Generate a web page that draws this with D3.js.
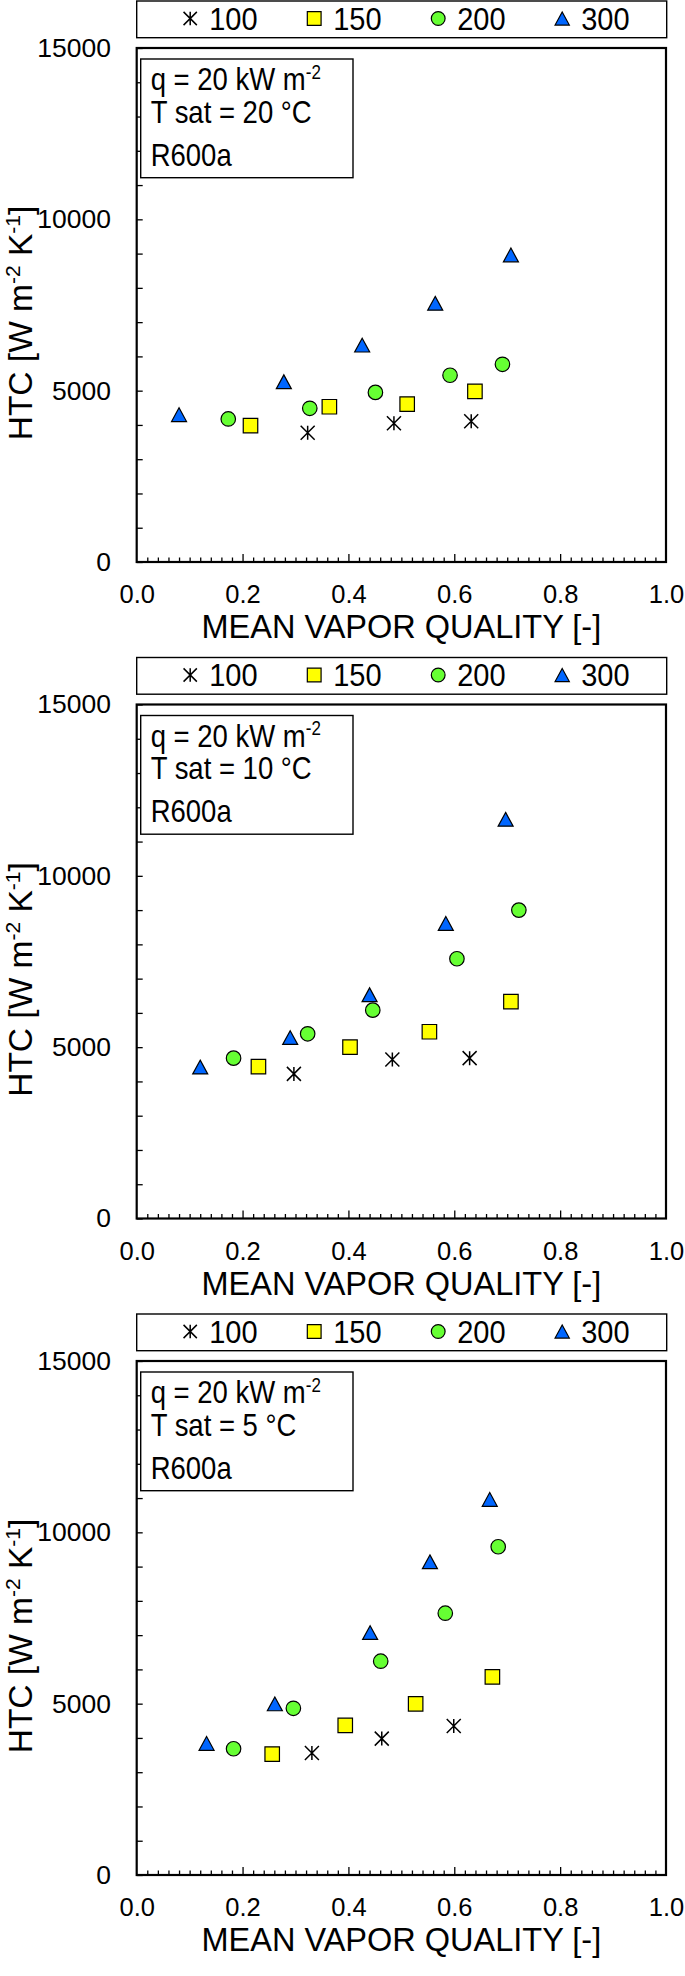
<!DOCTYPE html>
<html>
<head>
<meta charset="utf-8">
<script src="https://cdn.jsdelivr.net/npm/d3@7"></script>
<style>
  body { margin: 0; background: #fff; }
  svg { display: block; font-family: "Liberation Sans", Arial, sans-serif; }
</style>
</head>
<body>
<svg></svg>
<script>
// mass flux series (legend labels)
const seriesNames = ["100", "150", "200", "300"];
const tsatLabels = ["20", "10", "5"];

// Tsat = 20 C : [mean vapor quality, HTC]
const t20_g100 = [[0.323, 3770], [0.486, 4050], [0.632, 4110]];
const t20_g150 = [[0.215, 3980], [0.364, 4530], [0.511, 4610], [0.639, 4980]];
const t20_g200 = [[0.173, 4175], [0.327, 4485], [0.451, 4950], [0.592, 5450], [0.691, 5770]];
const t20_g300 = [[0.080, 4300], [0.278, 5260], [0.426, 6330], [0.564, 7550], [0.707, 8960]];

// Tsat = 10 C
const t10_g100 = [[0.297, 4220], [0.483, 4640], [0.629, 4680]];
const t10_g150 = [[0.230, 4430], [0.403, 5000], [0.553, 5450], [0.707, 6330]];
const t10_g200 = [[0.183, 4680], [0.323, 5390], [0.446, 6080], [0.605, 7580], [0.722, 9000]];
const t10_g300 = [[0.120, 4420], [0.290, 5280], [0.440, 6530], [0.584, 8610], [0.697, 11650]];

// Tsat = 5 C
const t5_g100 = [[0.331, 3560], [0.463, 3980], [0.599, 4350]];
const t5_g150 = [[0.256, 3530], [0.394, 4365], [0.527, 4995], [0.672, 5780]];
const t5_g200 = [[0.183, 3685], [0.296, 4865], [0.461, 6240], [0.583, 7640], [0.683, 9580]];
const t5_g300 = [[0.132, 3840], [0.261, 4995], [0.441, 7075], [0.554, 9140], [0.667, 10960]];

const panels = [
    [t20_g100, t20_g150, t20_g200, t20_g300],
    [t10_g100, t10_g150, t10_g200, t10_g300],
    [t5_g100, t5_g150, t5_g200, t5_g300]
];

const width = 685;
const height = 1976;
const xL = 136.7, xR = 666;
const top0 = 48, plotH = 514, step = 656.5;

const fills = ["none", "#ffff00", "#66ff33", "#0066ff"];

// custom marker shapes (size = full width in px)
const asterisk = {
    draw(ctx, s) {
        const h = s / 2;
        ctx.moveTo(-h, -h); ctx.lineTo(h, h);
        ctx.moveTo(h, -h); ctx.lineTo(-h, h);
        ctx.moveTo(0, -h); ctx.lineTo(0, h);
    }
};
const square = {
    draw(ctx, s) { const h = s / 2; ctx.rect(-h, -h, s, s); }
};
const circle = {
    draw(ctx, s) { const r = s / 2; ctx.moveTo(r, 0); ctx.arc(0, 0, r, 0, 2 * Math.PI); }
};
const triangle = {
    draw(ctx, s) {
        const w = s / 2, h = s * 0.46;
        ctx.moveTo(0, -h); ctx.lineTo(w, h); ctx.lineTo(-w, h); ctx.closePath();
    }
};
const shapes = [asterisk, square, circle, triangle];
const sizes = [14, 14.5, 14.5, 15];

const svg = d3.select("svg")
    .attr("width", width)
    .attr("height", height)
    .attr("viewBox", [0, 0, width, height]);

function marker(k, scale) {
    return d3.symbol().type(shapes[k]).size(sizes[k] * scale)();
}

function drawPanel(i) {
    const top = top0 + i * step;
    const bottom = top + plotH;
    const g = svg.append("g");

    const x = d3.scaleLinear().domain([0, 1]).range([xL, xR]);
    const y = d3.scaleLinear().domain([0, 15000]).range([bottom, top]);

    // y ticks, inside
    g.append("g")
        .attr("transform", `translate(${xL},0)`)
        .call(d3.axisRight(y).tickValues(d3.range(0, 15001, 1000)).tickSize(6).tickFormat(""))
        .call(a => a.select(".domain").remove())
        .selectAll("line").attr("stroke-width", 1.3);

    // y labels
    g.append("g")
        .attr("transform", `translate(${xL},0)`)
        .attr("font-size", null).attr("font-family", null)
        .call(d3.axisLeft(y).tickValues([0, 5000, 10000, 15000]).tickSize(0).tickPadding(25.7).tickFormat(d3.format("d")))
        .call(a => a.select(".domain").remove())
        .selectAll("text").attr("font-size", 26.5).attr("fill", "#000");

    // x minor ticks (0.02) and major (0.2), inside
    const minor = d3.range(1, 50).filter(k => k % 10 !== 0).map(k => k / 50);
    const major = [0.2, 0.4, 0.6, 0.8];
    g.append("g")
        .attr("transform", `translate(0,${bottom})`)
        .call(d3.axisTop(x).tickValues(minor).tickSize(4.5).tickFormat(""))
        .call(a => a.select(".domain").remove())
        .selectAll("line").attr("stroke-width", 1.3);
    g.append("g")
        .attr("transform", `translate(0,${bottom})`)
        .call(d3.axisTop(x).tickValues(major).tickSize(8).tickFormat(""))
        .call(a => a.select(".domain").remove())
        .selectAll("line").attr("stroke-width", 1.3);

    // x labels
    g.append("g")
        .attr("transform", `translate(0,${bottom})`)
        .attr("font-size", null).attr("font-family", null)
        .call(d3.axisBottom(x).tickValues([0, 0.2, 0.4, 0.6, 0.8, 1.0]).tickSize(0).tickPadding(23).tickFormat(d3.format(".1f")))
        .call(a => a.select(".domain").remove())
        .selectAll("text").attr("font-size", 25.5).attr("fill", "#000");

    // frame
    g.append("rect")
        .attr("x", xL).attr("y", top)
        .attr("width", xR - xL).attr("height", plotH)
        .attr("fill", "none").attr("stroke", "#000").attr("stroke-width", 2.2);

    // axis titles
    g.append("text")
        .attr("x", (xL + xR) / 2).attr("y", bottom + 76)
        .attr("text-anchor", "middle").attr("font-size", 32.5)
        .text("MEAN VAPOR QUALITY [-]");

    const yt = g.append("text")
        .attr("transform", `translate(32,${(top + bottom) / 2 + 18}) rotate(-90)`)
        .attr("text-anchor", "middle").attr("font-size", 33.5);
    yt.append("tspan").text("HTC [W m");
    yt.append("tspan").attr("dy", -12).attr("font-size", 21).text("-2");
    yt.append("tspan").attr("dy", 12).text(" K");
    yt.append("tspan").attr("dy", -12).attr("font-size", 21).text("-1");
    yt.append("tspan").attr("dy", 12).text("]");

    // legend
    const lg = g.append("g");
    lg.append("rect")
        .attr("x", xL).attr("y", top - 47)
        .attr("width", 666.7 - xL).attr("height", 36.7)
        .attr("fill", "#fff").attr("stroke", "#000").attr("stroke-width", 1.4);
    seriesNames.forEach((name, k) => {
        const cx = xL + 53.5 + k * 124;
        lg.append("path")
            .attr("transform", `translate(${cx},${top - 29.5})`)
            .attr("d", marker(k, 0.95))
            .attr("fill", fills[k])
            .attr("stroke", "#000")
            .attr("stroke-width", k === 0 ? 1.5 : 1.2);
        lg.append("text")
            .attr("transform", `translate(${cx + 19},${top - 18.5}) scale(1,1.1)`)
            .attr("font-size", 29)
            .text(name);
    });

    // annotation box
    const an = g.append("g");
    an.append("rect")
        .attr("x", 140.7).attr("y", top + 11)
        .attr("width", 212.3).attr("height", 118.7)
        .attr("fill", "#fff").attr("stroke", "#000").attr("stroke-width", 1.4);
    const t1 = an.append("text")
        .attr("transform", `translate(150.7,${top + 42}) scale(1,1.14)`)
        .attr("font-size", 27.5);
    t1.append("tspan").text("q = 20 kW m");
    t1.append("tspan").attr("dy", -10).attr("font-size", 17).text("-2");
    an.append("text")
        .attr("transform", `translate(150.7,${top + 74.7}) scale(1,1.14)`)
        .attr("font-size", 27.5)
        .text(`T sat = ${tsatLabels[i]} °C`);
    an.append("text")
        .attr("transform", `translate(150.7,${top + 117.7}) scale(1,1.14)`)
        .attr("font-size", 27.5)
        .text("R600a");

    // data points
    panels[i].forEach((pts, k) => {
        g.append("g")
            .selectAll("path")
            .data(pts)
            .join("path")
            .attr("transform", d => `translate(${x(d[0])},${y(d[1])})`)
            .attr("d", marker(k, 1))
            .attr("fill", fills[k])
            .attr("stroke", "#000")
            .attr("stroke-width", k === 0 ? 1.5 : 1.2);
    });
}

[0, 1, 2].forEach(drawPanel);
</script>
</body>
</html>
